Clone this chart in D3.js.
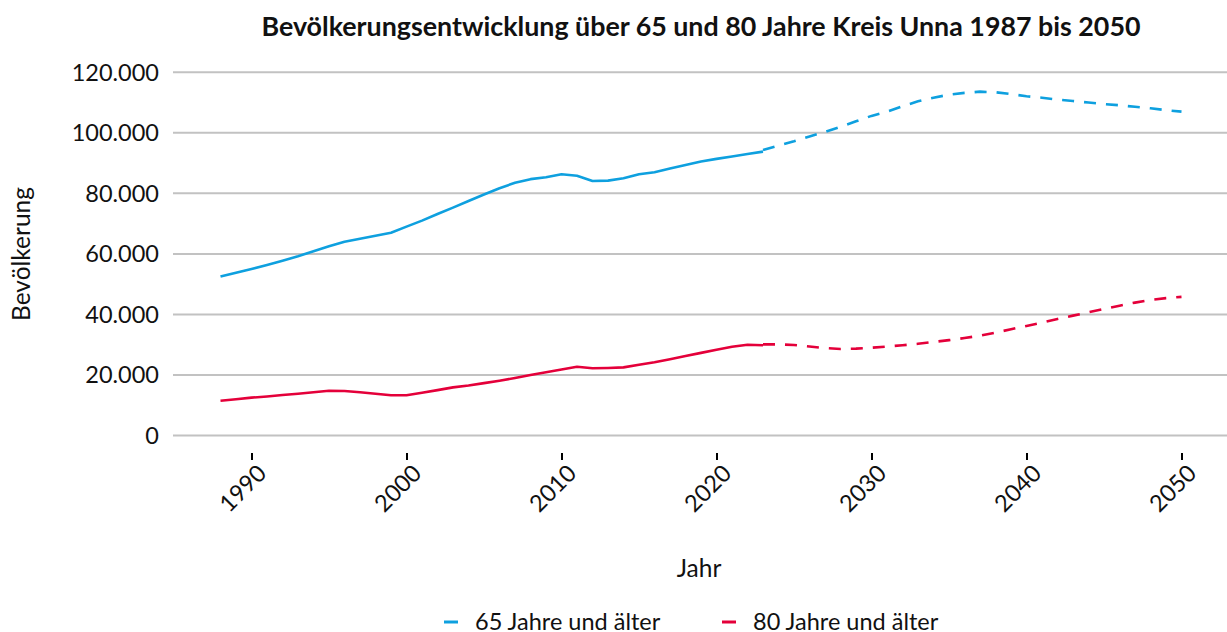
<!DOCTYPE html>
<html><head><meta charset="utf-8">
<script src="https://cdn.jsdelivr.net/npm/d3@7"></script>
<style>
body{margin:0;background:#fff;}
text{font-family:Lato,"Open Sans",sans-serif;fill:#111;}
</style></head>
<body><svg id="c" width="1227" height="632"></svg>
<script>
const histYears = d3.range(1988, 2024);
const hist65 = [52500,53800,55000,56300,57700,59200,60900,62500,64000,65000,66000,67000,69000,71000,73200,75300,77500,79600,81700,83500,84700,85300,86300,85800,84100,84200,85000,86300,87000,88200,89400,90500,91400,92200,93000,93800];
const hist80 = [11500,12000,12500,12900,13400,13800,14300,14800,14700,14300,13800,13300,13300,14100,15000,15900,16500,17300,18100,19000,20000,20900,21800,22700,22200,22300,22500,23400,24200,25200,26300,27300,28300,29300,30000,29800];
const projYears = d3.range(2023, 2051);
const proj65 = [94300,95800,97200,98800,100300,102000,103800,105600,107000,108800,110400,111600,112600,113200,113600,113400,112800,112100,111600,111000,110500,110000,109500,109100,108600,108100,107500,107000];
const proj80 = [30100,30100,29900,29400,28900,28600,28700,29000,29400,29800,30300,30900,31500,32200,33000,34000,35100,36200,37300,38500,39600,40700,41800,42900,43900,44800,45400,45800];
const yTicks = [0,20000,40000,60000,80000,100000,120000];
const xTicks = [1990,2000,2010,2020,2030,2040,2050];
const seriesNames = ["65 Jahre und älter","80 Jahre und älter"];
const colors = ["#0ea0df","#e4003a"];
const title = "Bevölkerungsentwicklung über 65 und 80 Jahre Kreis Unna 1987 bis 2050";

const svg = d3.select("#c");
const x = d3.scaleLinear().domain([1985,2053]).range([174,1228]);
const y = d3.scaleLinear().domain([0,120000]).range([435.5,72.3]);
const fmt = v => d3.format(",")(v).replace(/,/g,".");

svg.append("g").selectAll("line").data(yTicks).join("line")
  .attr("x1",173).attr("x2",1227).attr("y1",d=>y(d)).attr("y2",d=>y(d))
  .attr("stroke","#c2c2c2").attr("stroke-width",2);
svg.append("g").selectAll("text").data(yTicks).join("text")
  .attr("x",159).attr("y",d=>y(d)).attr("dy","0.35em").attr("text-anchor","end")
  .attr("font-size",23.5).text(fmt);
const xa = svg.append("g").attr("transform","translate(0,453)")
  .call(d3.axisBottom(x).tickValues(xTicks).tickFormat(d3.format("d")).tickSize(7).tickPadding(4));
xa.select(".domain").remove();
xa.selectAll(".tick line").attr("stroke","#000").attr("stroke-width",2);
xa.selectAll(".tick text").attr("font-size",23.5).attr("fill","#111")
  .attr("font-family","Lato,sans-serif")
  .attr("text-anchor","end").attr("transform","translate(10,16) rotate(-45)").attr("dy","0.35em").attr("y",0).attr("x",0);

const line = d3.line().x(d=>x(d[0])).y(d=>y(d[1]));
const hists = [hist65, hist80], projs = [proj65, proj80];
[0,1].forEach(i=>{
  svg.append("path").datum(histYears.map((yr,k)=>[yr,hists[i][k]]))
    .attr("d",line).attr("fill","none").attr("stroke",colors[i]).attr("stroke-width",2.6).attr("stroke-linejoin","round");
  svg.append("path").datum(projYears.map((yr,k)=>[yr,projs[i][k]]))
    .attr("d",line).attr("fill","none").attr("stroke",colors[i]).attr("stroke-width",2.6).attr("stroke-dasharray","12,10");
});

svg.append("text").attr("x",701).attr("y",36).attr("text-anchor","middle")
  .attr("font-size",26.8).attr("font-weight","bold").text(title);
svg.append("text").attr("transform","translate(30,254) rotate(-90)").attr("text-anchor","middle")
  .attr("font-size",24.5).text("Bevölkerung");
svg.append("text").attr("x",699).attr("y",577).attr("text-anchor","middle")
  .attr("font-size",24.5).text("Jahr");

const lg = svg.append("g");
const lx = [444,722];
[0,1].forEach(i=>{
  lg.append("line").attr("x1",lx[i]).attr("x2",lx[i]+14).attr("y1",622).attr("y2",622)
    .attr("stroke",colors[i]).attr("stroke-width",3);
  lg.append("text").attr("x",lx[i]+31).attr("y",622).attr("dy","0.35em").attr("font-size",23.5).text(seriesNames[i]);
});
</script></body></html>
